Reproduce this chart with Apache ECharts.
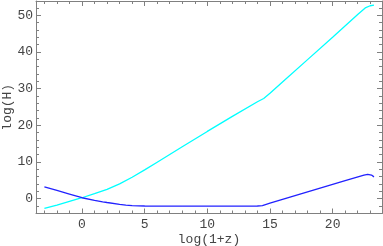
<!DOCTYPE html>
<html><head><meta charset="utf-8">
<script src="https://cdn.jsdelivr.net/npm/echarts@6/dist/echarts.min.js"></script>
<style>html,body{margin:0;padding:0;background:#fff}#c{width:383px;height:246px}</style>
</head><body><div id="c"></div>
<script>
const xTitle = 'log(1+z)';
const yTitle = 'log(H)';
const xMajor = [0, 5, 10, 15, 20];
const xMinor = [-3,-2,-1,1,2,3,4,6,7,8,9,11,12,13,14,16,17,18,19,21,22,23];
const yMajor = [0, 10, 20, 30, 40, 50];
const yMinor = [-4,-2,2,4,6,8,12,14,16,18,22,24,26,28,32,34,36,38,42,44,46,48,52];

const cyanX = [-3,-2,-1,0,1,2,3,4,5,6,8,10,12,14,14.5,15,16,18,20,22,22.6,23,23.3];
const cyanY = [-2.7,-1.8,-0.8,0.2,1.3,2.5,4.0,5.8,7.8,9.9,14.1,18.3,22.4,26.4,27.3,28.7,31.8,37.9,44.0,50.2,52.0,52.6,52.8];
const blueX = [-3,-2,-1,0,1,1.65,2,3,3.5,4,5,8,12,14,14.4,15,17,19,21,22.5,22.8,23.1,23.3];
const blueY = [3.2,2.2,1.2,0.2,-0.5,-0.9,-1.1,-1.6,-1.8,-1.95,-2.05,-2.1,-2.1,-2.05,-1.95,-1.3,0.75,2.8,4.85,6.35,6.6,6.4,5.9];

const zip = (a, b) => a.map((v, i) => [v, b[i]]);
const XMIN = -3.67, XMAX = 23.94, YMIN = -4.1, YMAX = 53.9;
const frame = '#808080';
const font = {fontFamily: 'Liberation Mono', fontSize: 13, color: '#444'};

function xAx(pos, vals, len, labels, line, name) {
  return {
    type: 'value', position: pos, min: XMIN, max: XMAX,
    axisLine: {show: line, onZero: false, lineStyle: {color: frame, width: 1}},
    splitLine: {show: false},
    axisTick: {show: true, inside: true, length: len, customValues: vals, lineStyle: {color: frame}},
    axisLabel: labels ? Object.assign({show: true, customValues: vals, margin: 5}, font) : {show: false},
    name: name || '', nameLocation: 'middle', nameGap: 20, nameMoveOverlap: false,
    nameTextStyle: Object.assign({}, font)
  };
}
function yAx(pos, vals, len, labels, line, name) {
  return {
    type: 'value', position: pos, min: YMIN, max: YMAX,
    axisLine: {show: line, onZero: false, lineStyle: {color: frame, width: 1}},
    splitLine: {show: false},
    axisTick: {show: true, inside: true, length: len, customValues: vals, lineStyle: {color: frame}},
    axisLabel: labels ? Object.assign({show: true, customValues: vals, margin: 3}, font) : {show: false},
    name: name || '', nameLocation: 'middle', nameGap: 22, nameMoveOverlap: false,
    nameTextStyle: Object.assign({}, font)
  };
}

const chart = echarts.init(document.getElementById('c'), null, {renderer: 'canvas'});
chart.setOption({
  animation: false,
  grid: {left: 36, right: 1, top: 1, bottom: 32.5, containLabel: false, outerBoundsMode: 'none'},
  xAxis: [
    xAx('bottom', xMajor, 5, true, true, xTitle),
    xAx('bottom', xMinor, 3, false, false),
    xAx('top', xMajor, 5, false, true),
    xAx('top', xMinor, 3, false, false)
  ],
  yAxis: [
    yAx('left', yMajor, 5, true, true, yTitle),
    yAx('left', yMinor, 3, false, false),
    yAx('right', yMajor, 5, false, true),
    yAx('right', yMinor, 3, false, false)
  ],
  series: [
    {type: 'line', data: zip(cyanX, cyanY), showSymbol: false, xAxisIndex: 0, yAxisIndex: 0,
     lineStyle: {color: '#00ffff', width: 1.3}, itemStyle: {color: '#00ffff'}},
    {type: 'line', data: zip(blueX, blueY), showSymbol: false, xAxisIndex: 0, yAxisIndex: 0,
     lineStyle: {color: '#2222ff', width: 1.3}, itemStyle: {color: '#2222ff'}}
  ]
});
</script></body></html>
